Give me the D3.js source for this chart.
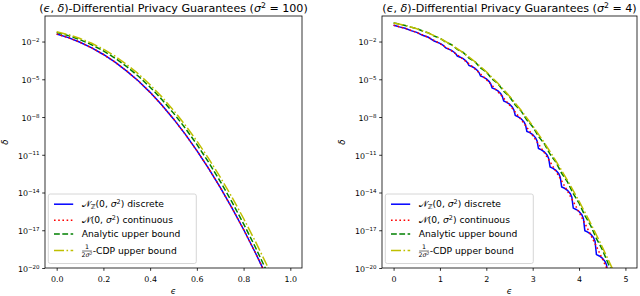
<!DOCTYPE html>
<html><head><meta charset="utf-8">
<script src="https://cdn.jsdelivr.net/npm/d3@7"></script>
<style>body{margin:0;background:#fff} text{font-family:"DejaVu Sans",sans-serif;fill:#000}</style>
</head><body><svg id="c" width="640" height="296" xmlns="http://www.w3.org/2000/svg"></svg>
<script>
// ---------- data (delta values stored as log10 exponents) ----------
const epsLeft = [0,0.05,0.1,0.15,0.2,0.25,0.3,0.35,0.4,0.45,0.5,0.55,0.6,0.65,0.7,0.75,0.8,0.85,0.9,0.95];
const leftDiscrete   = [-1.40,-1.69,-2.06,-2.50,-3.03,-3.64,-4.35,-5.14,-6.04,-7.05,-8.15,-9.36,-10.67,-12.08,-13.60,-15.22,-16.94,-18.77,-20.71,-22.75];
const leftContinuous = [-1.40,-1.69,-2.06,-2.50,-3.03,-3.64,-4.35,-5.14,-6.04,-7.05,-8.15,-9.36,-10.67,-12.08,-13.60,-15.22,-16.94,-18.77,-20.71,-22.75];
const leftAnalytic   = [-1.27,-1.528,-1.853,-2.258,-2.744,-3.323,-3.995,-4.761,-5.626,-6.606,-7.688,-8.876,-10.172,-11.587,-13.114,-14.750,-16.493,-18.331,-20.283,-22.3];
const leftCDP        = [-1.218,-1.453,-1.756,-2.138,-2.606,-3.166,-3.823,-4.579,-5.437,-6.398,-7.462,-8.631,-9.906,-11.286,-12.773,-14.365,-16.065,-17.872,-19.785,-21.806];

const epsRightDiscrete = [0,0.0625,0.125,0.25,0.375,0.5,0.625,0.75,0.875,1.0,1.0625,1.125,1.25,1.3125,1.345,1.375,1.4375,1.5,1.5625,1.595,1.625,1.6875,1.75,1.8125,1.845,1.875,1.9375,2.0,2.0625,2.095,2.125,2.1875,2.25,2.3125,2.345,2.375,2.4375,2.5,2.5625,2.595,2.625,2.6875,2.75,2.8125,2.845,2.875,2.9375,3.0,3.0625,3.095,3.125,3.1875,3.25,3.3125,3.345,3.375,3.4375,3.5,3.5625,3.595,3.625,3.6875,3.75,3.8125,3.845,3.875,3.9375,4.0,4.0625,4.095,4.125,4.1875,4.25,4.3125,4.345,4.375,4.4375,4.5,4.5625,4.595,4.625];
const rightDiscrete = [-0.700,-0.760,-0.835,-0.949,-1.131,-1.268,-1.504,-1.662,-1.962,-2.140,-2.281,-2.510,-2.705,-2.867,-2.991,-3.153,-3.243,-3.363,-3.545,-3.690,-3.894,-3.988,-4.117,-4.316,-4.482,-4.736,-4.833,-4.969,-5.184,-5.370,-5.680,-5.780,-5.922,-6.150,-6.355,-6.728,-6.831,-6.976,-7.216,-7.439,-7.880,-7.985,-8.134,-8.383,-8.622,-9.139,-9.245,-9.397,-9.654,-9.906,-10.503,-10.611,-10.765,-11.028,-11.292,-11.975,-12.084,-12.240,-12.508,-12.781,-13.554,-13.663,-13.821,-14.093,-14.374,-15.240,-15.350,-15.509,-15.784,-16.071,-17.035,-17.145,-17.304,-17.583,-17.875,-18.937,-19.047,-19.208,-19.488,-19.784,-20.947];

const epsRightContinuous = [0,0.0625,0.125,0.25,0.375,0.5,0.625,0.75,0.875,1.0,1.125,1.25,1.375,1.5,1.625,1.75,1.875,2.0,2.125,2.25,2.375,2.5,2.625,2.75,2.875,3.0,3.125,3.25,3.375,3.5,3.625,3.75,3.875,4.0,4.125,4.25,4.375,4.5,4.625,4.75];
const rightContinuous = [-0.705,-0.762,-0.823,-0.957,-1.110,-1.280,-1.470,-1.681,-1.913,-2.166,-2.441,-2.739,-3.060,-3.405,-3.773,-4.166,-4.583,-5.025,-5.492,-5.991,-6.500,-7.040,-7.610,-8.202,-8.824,-9.467,-10.139,-10.835,-11.559,-12.308,-13.084,-13.885,-14.713,-15.567,-16.448,-17.356,-18.289,-19.248,-20.235,-21.25];

const epsRightAnalytic = [0,0.125,0.25,0.375,0.5,0.625,0.75,0.875,1.0,1.125,1.25,1.375,1.5,1.625,1.75,1.875,2.0,2.125,2.25,2.375,2.5,2.625,2.75,2.875,3.0,3.125,3.25,3.375,3.5,3.625,3.75,3.875,4.0,4.125,4.25,4.375,4.5,4.625,4.75];
const rightAnalytic = [-0.527,-0.614,-0.722,-0.854,-0.975,-1.166,-1.312,-1.562,-1.737,-2.049,-2.251,-2.631,-2.868,-3.314,-3.585,-4.098,-4.412,-4.976,-5.341,-5.959,-6.376,-7.047,-7.518,-8.242,-8.766,-9.543,-10.120,-10.952,-11.583,-12.469,-13.155,-14.094,-14.834,-15.828,-16.621,-17.670,-18.518,-19.620,-20.56];

const epsRightCDP = [0,0.25,0.5,0.75,1.0,1.25,1.5,1.75,2.0,2.25,2.5,2.75,3.0,3.25,3.5,3.75,4.0,4.25,4.5,4.75];
const rightCDP = [-0.527,-0.721,-0.982,-1.320,-1.745,-2.262,-2.876,-3.589,-4.404,-5.321,-6.342,-7.468,-8.699,-10.035,-11.478,-13.028,-14.684,-16.447,-18.318,-20.295];

const yTickExponents = [-20,-17,-14,-11,-8,-5,-2];
const leftXTicks = [0,0.2,0.4,0.6,0.8,1.0];
const rightXTicks = [0,1,2,3,4,5];
const sigmaLabels = ["100","4"];

// ---------- drawing ----------
const svg = d3.select("#c");
svg.append("rect").attr("width",640).attr("height",296).attr("fill","#fff");
const TICK = 7.9, LEG = 9.2, TITLE = 11.1, LAB = 8.6;

function rich(t, parts, base){
  let shift = 0;
  parts.forEach(p=>{
    const ts = t.append("tspan").text(p.t);
    const target = p.sup ? -base*0.42 : (p.sub ? base*0.22 : 0);
    const dy = target - shift; shift = target;
    if (dy) ts.attr("dy", dy);
    if (p.sup || p.sub) ts.attr("font-size", base*0.7);
    if (p.it) ts.attr("font-style","italic");
    if (p.font) ts.attr("font-family", p.font);
  });
}

const styles = [
  {color:"#0000ff", dash:null},
  {color:"#ff0000", dash:"1.6,2.6"},
  {color:"#008000", dash:"5.8,2.5"},
  {color:"#bfbf00", dash:"10,2.5,1.6,2.5"}
];

function panel(cfg){
  const {x0,x1,y0,y1,xdom,xticks,fmt,series,sigma,id} = cfg;
  const x = d3.scaleLinear().domain(xdom).range([x0,x1]);
  const y = d3.scaleLog().domain([1e-20, Math.pow(10,0.03)]).range([y1,y0]);
  const g = svg.append("g");
  g.append("clipPath").attr("id","clip"+id).append("rect")
    .attr("x",x0).attr("y",y0).attr("width",x1-x0).attr("height",y1-y0);
  const line = d3.line().x(d=>x(d[0])).y(d=>y(Math.pow(10,d[1])));
  const lg = g.append("g").attr("clip-path",`url(#clip${id})`);
  series.forEach((s,i)=>{
    const pts = s.eps.map((e,j)=>[e,s.v[j]]);
    lg.append("path").attr("d",line(pts)).attr("fill","none")
      .attr("stroke",styles[i].color).attr("stroke-width",1.5)
      .attr("stroke-dasharray",styles[i].dash);
  });
  // axes
  const xa = g.append("g").attr("transform",`translate(0,${y1})`)
    .call(d3.axisBottom(x).tickValues(xticks).tickFormat(fmt).tickSize(2.8).tickPadding(3.2));
  xa.select(".domain").remove();
  xa.selectAll("text").attr("font-size",TICK).attr("font-family","DejaVu Sans").attr("dy","0.95em");
  xa.selectAll("line").attr("stroke-width",0.8);
  const ya = g.append("g").attr("transform",`translate(${x0},0)`)
    .call(d3.axisLeft(y).tickValues(yTickExponents.map(e=>Math.pow(10,e))).tickFormat("").tickSize(2.8).tickPadding(3));
  ya.select(".domain").remove();
  ya.selectAll("line").attr("stroke-width",0.8);
  ya.selectAll(".tick").each(function(d){
    const t = d3.select(this).select("text").attr("font-size",TICK).attr("font-family","DejaVu Sans")
      .attr("x",-5.4).attr("dy","0.42em").text(null);
    const e = Math.round(Math.log10(d));
    rich(t,[{t:"10"},{t:"\u2212"+Math.abs(e),sup:true}],TICK);
  });
  g.append("rect").attr("x",x0).attr("y",y0).attr("width",x1-x0).attr("height",y1-y0)
    .attr("fill","none").attr("stroke","#000").attr("stroke-width",0.8);
  // title
  const cx = (x0+x1)/2;
  const tt = g.append("text").attr("x",cx).attr("y",12.2).attr("text-anchor","middle").attr("font-size",TITLE);
  rich(tt,[{t:"("},{t:"\u03f5",it:true},{t:", "},{t:"\u03b4",it:true},{t:")-Differential Privacy Guarantees ("},
    {t:"\u03c3",it:true},{t:"2",sup:true},{t:" = "+sigma+")"}],TITLE);
  // axis labels
  g.append("text").attr("x",cx).attr("y",293.8).attr("text-anchor","middle").attr("font-size",LAB)
    .attr("font-style","italic").text("\u03f5");
  g.append("text").attr("transform",`translate(${x0-40.2},${(y0+y1)/2}) rotate(-90)`).attr("text-anchor","middle")
    .attr("dy","0.35em").attr("font-size",LAB).attr("font-style","italic").text("\u03b4");
  // legend
  const lx = x0+3.3, ly = 194;
  const leg = g.append("g");
  leg.append("rect").attr("x",lx).attr("y",ly).attr("width",148).attr("height",69.5).attr("rx",2)
    .attr("fill","#fff").attr("fill-opacity",0.8).attr("stroke","#cccccc").attr("stroke-width",0.8);
  const rowsY = [204.2,220.3,234.1,250.5];
  const baseY = [207.4,223.4,237.3,253.6];
  rowsY.forEach((ry,i)=>{
    leg.append("line").attr("x1",lx+5.7).attr("x2",lx+24.9).attr("y1",ry).attr("y2",ry)
      .attr("stroke",styles[i].color).attr("stroke-width",1.5).attr("stroke-dasharray",styles[i].dash);
  });
  const tx = lx+33.4;
  const t1 = leg.append("text").attr("x",tx).attr("y",baseY[0]).attr("font-size",LEG);
  rich(t1,[{t:"\ud835\udca9",font:"DejaVu Serif"},{t:"\u2124",sub:true},{t:"(0, "},{t:"\u03c3",it:true},{t:"2",sup:true},{t:") discrete"}],LEG);
  const t2 = leg.append("text").attr("x",tx).attr("y",baseY[1]).attr("font-size",LEG);
  rich(t2,[{t:"\ud835\udca9",font:"DejaVu Serif"},{t:"(0, "},{t:"\u03c3",it:true},{t:"2",sup:true},{t:") continuous"}],LEG);
  leg.append("text").attr("x",tx).attr("y",baseY[2]).attr("font-size",LEG).text("Analytic upper bound");
  const fs = 6.3, fx = tx+5.2;
  leg.append("text").attr("x",fx).attr("y",249.3).attr("text-anchor","middle").attr("font-size",fs).text("1");
  leg.append("line").attr("x1",tx+0.4).attr("x2",tx+10.2).attr("y1",251).attr("y2",251).attr("stroke","#000").attr("stroke-width",0.55);
  const den = leg.append("text").attr("x",fx).attr("y",257.2).attr("text-anchor","middle").attr("font-size",fs);
  rich(den,[{t:"2"},{t:"\u03c3",it:true},{t:"2",sup:true}],fs);
  leg.append("text").attr("x",tx+11).attr("y",baseY[3]).attr("font-size",LEG).text("-CDP upper bound");
}

panel({id:1,x0:45,x1:302,y0:16,y1:268,xdom:[-0.05,1.05],xticks:leftXTicks,fmt:d3.format(".1f"),sigma:sigmaLabels[0],
  series:[{eps:epsLeft,v:leftDiscrete},{eps:epsLeft,v:leftContinuous},{eps:epsLeft,v:leftAnalytic},{eps:epsLeft,v:leftCDP}]});
panel({id:2,x0:382,x1:637,y0:16,y1:268,xdom:[-0.25,5.25],xticks:rightXTicks,fmt:d3.format("d"),sigma:sigmaLabels[1],
  series:[{eps:epsRightDiscrete,v:rightDiscrete},{eps:epsRightContinuous,v:rightContinuous},{eps:epsRightAnalytic,v:rightAnalytic},{eps:epsRightCDP,v:rightCDP}]});
</script></body></html>
